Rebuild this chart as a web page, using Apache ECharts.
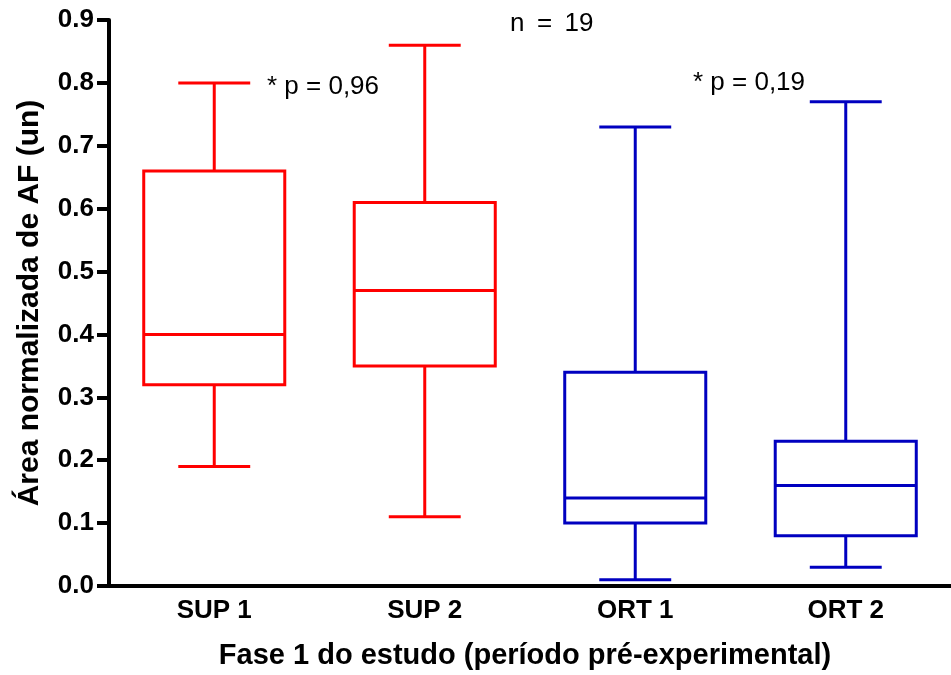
<!DOCTYPE html>
<html>
<head>
<meta charset="utf-8">
<script src="https://cdn.jsdelivr.net/npm/echarts@6/dist/echarts.min.js"></script>
<style>
  html, body { margin: 0; padding: 0; background: #fff; }
  #main { width: 951px; height: 675px; }
</style>
</head>
<body>
<div id="main"></div>
<script>
// dados
var categories = ['SUP 1', 'SUP 2', 'ORT 1', 'ORT 2'];
var minVals    = [0.19, 0.11, 0.01, 0.03];
var q1Vals     = [0.32, 0.35, 0.10, 0.08];
var medianVals = [0.40, 0.47, 0.14, 0.16];
var q3Vals     = [0.66, 0.61, 0.34, 0.23];
var maxVals    = [0.80, 0.86, 0.73, 0.77];

var boxColors = ['#ff0000', '#ff0000', '#0000c0', '#0000c0'];
var FONT = 'Liberation Sans, Arial, sans-serif';

var boxData = categories.map(function (c, i) {
    return [i, minVals[i], q1Vals[i], medianVals[i], q3Vals[i], maxVals[i]];
});

// caixa + bigodes desenhados com as escalas do eixo
function renderBox(params, api) {
    var idx = api.value(0);
    var pMin = api.coord([idx, api.value(1)]);
    var pQ1 = api.coord([idx, api.value(2)]);
    var pMed = api.coord([idx, api.value(3)]);
    var pQ3 = api.coord([idx, api.value(4)]);
    var pMax = api.coord([idx, api.value(5)]);
    var band = api.size([1, 0])[0];
    var hw = band * 0.335;   // meia largura da caixa
    var cw = hw * 0.51;      // meia largura do bigode
    var x = pMed[0];
    var style = {
        stroke: boxColors[params.dataIndex],
        fill: null,
        lineWidth: 3
    };
    return {
        type: 'group',
        children: [
            { type: 'rect', shape: { x: x - hw, y: pQ3[1], width: hw * 2, height: pQ1[1] - pQ3[1] }, style: style },
            { type: 'line', shape: { x1: x - hw, y1: pMed[1], x2: x + hw, y2: pMed[1] }, style: style },
            { type: 'line', shape: { x1: x, y1: pQ3[1], x2: x, y2: pMax[1] }, style: style },
            { type: 'line', shape: { x1: x, y1: pQ1[1], x2: x, y2: pMin[1] }, style: style },
            { type: 'line', shape: { x1: x - cw, y1: pMax[1], x2: x + cw, y2: pMax[1] }, style: style },
            { type: 'line', shape: { x1: x - cw, y1: pMin[1], x2: x + cw, y2: pMin[1] }, style: style }
        ]
    };
}

var myChart = echarts.init(document.getElementById('main'));

var option = {
    backgroundColor: '#fff',
    animation: false,
    grid: {
        left: 109,
        width: 849,
        top: 20,
        bottom: 85
    },
    xAxis: {
        type: 'category',
        data: categories,
        boundaryGap: true,
        name: 'Fase 1 do estudo (período pré-experimental)',
        nameLocation: 'middle',
        nameGap: 55,
        nameTextStyle: { fontFamily: FONT, fontWeight: 'bold', fontSize: 29, color: '#000', padding: [0, 10, 0, 0] },
        axisLine: { lineStyle: { color: '#000', width: 4 } },
        axisTick: { alignWithLabel: true, length: 10, lineStyle: { color: '#000', width: 4 } },
        axisLabel: { fontFamily: FONT, fontWeight: 'bold', fontSize: 26, color: '#000', margin: 12 },
        splitLine: { show: false }
    },
    yAxis: {
        type: 'value',
        min: 0,
        max: 0.9,
        interval: 0.1,
        name: 'Área normalizada de AF (un)',
        nameLocation: 'middle',
        nameGap: 64,
        nameTextStyle: { fontFamily: FONT, fontWeight: 'bold', fontSize: 30, color: '#000' },
        axisLine: { show: true, lineStyle: { color: '#000', width: 4 } },
        axisTick: { show: true, length: 12, lineStyle: { color: '#000', width: 4 } },
        axisLabel: {
            fontFamily: FONT, fontWeight: 'bold', fontSize: 26, color: '#000', margin: 15,
            formatter: function (v) { return v.toFixed(1); }
        },
        splitLine: { show: false }
    },
    graphic: [
        { type: 'text', x: 510, y: 24, style: { text: 'n \u2009= \u200919', font: '26px ' + FONT, fill: '#000', verticalAlign: 'middle' } },
        { type: 'text', x: 267, y: 87, style: { text: '* p = 0,96', font: '26px ' + FONT, fill: '#000', verticalAlign: 'middle' } },
        { type: 'text', x: 693, y: 83, style: { text: '* p = 0,19', font: '26px ' + FONT, fill: '#000', verticalAlign: 'middle' } }
    ],
    series: [{
        type: 'custom',
        renderItem: renderBox,
        encode: { x: 0, y: [1, 2, 3, 4, 5] },
        data: boxData,
        clip: false
    }]
};

myChart.setOption(option);
</script>
</body>
</html>
